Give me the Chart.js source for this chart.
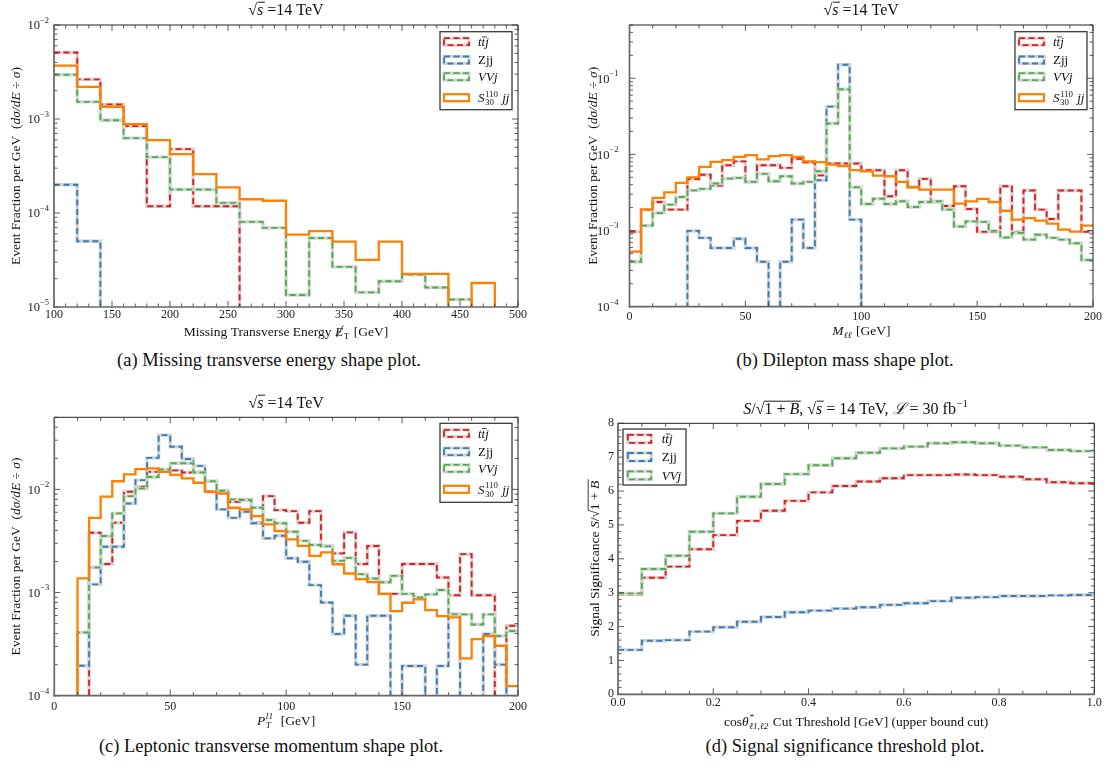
<!DOCTYPE html>
<html>
<head>
<meta charset="utf-8">
<title>Shape plots</title>
<script src="https://cdn.jsdelivr.net/npm/chart.js@4.4.1/dist/chart.umd.min.js"></script>
<style>
  html, body { margin: 0; padding: 0; background: #fff; }
  body { position: relative; width: 1108px; height: 771px; overflow: hidden; font-family: "Liberation Serif", "DejaVu Serif", serif; color: #111; }
  .panel { position: absolute; }
  .panel canvas { display: block; }
  .caption { position: absolute; font-size: 18.5px; line-height: 22px; white-space: nowrap; transform: translateX(-50%); }
</style>
</head>
<body>
<div class="panel" style="left:0;top:0"><canvas id="chart-met" width="548" height="345" style="width:548px;height:345px"></canvas></div>
<div class="panel" style="left:560px;top:0"><canvas id="chart-mll" width="548" height="345" style="width:548px;height:345px"></canvas></div>
<div class="panel" style="left:0;top:385px"><canvas id="chart-ptl" width="548" height="350" style="width:548px;height:350px"></canvas></div>
<div class="panel" style="left:560px;top:385px"><canvas id="chart-signif" width="548" height="350" style="width:548px;height:350px"></canvas></div>
<div class="caption" style="left:269px;top:349px">(a) Missing transverse energy shape plot.</div>
<div class="caption" style="left:845px;top:349px">(b) Dilepton mass shape plot.</div>
<div class="caption" style="left:271px;top:735px">(c) Leptonic transverse momentum shape plot.</div>
<div class="caption" style="left:845px;top:735px">(d) Signal significance threshold plot.</div>
<script>
const SERIF = '"Liberation Serif", "DejaVu Serif", serif';
const RED = "#e41a1c", BLUE = "#377eb8", GREEN = "#4daf4a", ORANGE = "#ff7f00", HALO = "#d4d4d4";
const FLOOR = 1e-9; // empty bins fall off the bottom of the log axis

// (a) missing transverse energy, 20 GeV bins
const metEdges = [100, 120, 140, 160, 180, 200, 220, 240, 260, 280, 300, 320, 340, 360, 380, 400, 420, 440, 460, 480, 500];
const metTtj = [5.1e-3, 2.64e-3, 1.43e-3, 8.4e-4, 1.18e-4, 4.78e-4, 1.18e-4, 1.18e-4, 0, 0, 0, 0, 0, 0, 0, 0, 0, 0, 0, 0];
const metZjj = [2.0e-4, 5.0e-5, 0, 0, 0, 0, 0, 0, 0, 0, 0, 0, 0, 0, 0, 0, 0, 0, 0, 0];
const metVVj = [2.96e-3, 1.52e-3, 9.7e-4, 6.26e-4, 3.93e-4, 1.78e-4, 1.78e-4, 1.28e-4, 8.05e-5, 6.94e-5, 1.34e-5, 5.43e-5, 2.67e-5, 1.43e-5, 1.88e-5, 2.21e-5, 1.61e-5, 1.2e-5, 0, 0];
const metSig = [3.69e-3, 2.2e-3, 1.35e-3, 8.8e-4, 5.96e-4, 4.23e-4, 2.59e-4, 1.87e-4, 1.4e-4, 1.35e-4, 5.9e-5, 6.4e-5, 4.97e-5, 3.17e-5, 4.97e-5, 2.25e-5, 2.25e-5, 0, 1.8e-5, 0];

// (b) dilepton mass and (c) leading lepton pT, 5 GeV bins
const edges5 = [0, 5, 10, 15, 20, 25, 30, 35, 40, 45, 50, 55, 60, 65, 70, 75, 80, 85, 90, 95, 100, 105, 110, 115, 120, 125, 130, 135, 140, 145, 150, 155, 160, 165, 170, 175, 180, 185, 190, 195, 200];
const mllTtj = [9.6e-4, 1.88e-3, 2.37e-3, 1.88e-3, 1.88e-3, 4.76e-3, 5.4e-3, 3.9e-3, 7.2e-3, 8.1e-3, 4.36e-3, 7.2e-3, 7.2e-3, 6.66e-3, 8.75e-3, 7.9e-3, 5.3e-3, 7.6e-3, 7.6e-3, 7.6e-3,
  6.2e-3, 6.2e-3, 2.82e-3, 6.2e-3, 3.74e-3, 4.77e-3, 2.37e-3, 2.1e-3, 3.81e-3, 1.92e-3, 9.6e-4, 9.6e-4, 3.81e-3, 9.6e-4, 3.35e-3, 1.88e-3, 1.42e-3, 3.35e-3, 3.35e-3, 9.6e-4];
const mllZjj = [0, 0, 0, 0, 0, 9.9e-4, 8.0e-4, 5.9e-4, 5.9e-4, 7.8e-4, 5.9e-4, 3.9e-4, 0, 3.9e-4, 1.39e-3, 5.9e-4, 4.57e-3, 4.24e-2, 0.15, 1.39e-3,
  0, 0, 0, 0, 0, 0, 0, 0, 0, 0, 0, 0, 0, 0, 0, 0, 0, 0, 0, 0];
const mllVVj = [3.9e-4, 1.16e-3, 1.7e-3, 2.19e-3, 2.76e-3, 3.37e-3, 3.52e-3, 4.14e-3, 4.8e-3, 4.92e-3, 4.36e-3, 5.55e-3, 4.44e-3, 5.16e-3, 4.14e-3, 4.36e-3, 6.0e-3, 2.55e-2, 7.16e-2, 3.7e-3,
  2.23e-3, 2.62e-3, 2.23e-3, 2.42e-3, 2.04e-3, 2.37e-3, 2.42e-3, 1.88e-3, 1.13e-3, 1.32e-3, 1.3e-3, 9.9e-4, 8.1e-4, 9.3e-4, 7.6e-4, 8.8e-4, 8.0e-4, 7.6e-4, 6.8e-4, 4.1e-4];
const mllSig = [5.3e-4, 1.88e-3, 2.68e-3, 3.18e-3, 4.23e-3, 5.0e-3, 6.86e-3, 7.98e-3, 8.4e-3, 9.3e-3, 9.77e-3, 8.6e-3, 9.47e-3, 9.77e-3, 9.3e-3, 8.1e-3, 7.9e-3, 7.36e-3, 7.0e-3, 6.2e-3,
  6.0e-3, 5.27e-3, 5.16e-3, 4.36e-3, 3.7e-3, 3.45e-3, 3.45e-3, 3.45e-3, 2.25e-3, 2.42e-3, 2.6e-3, 2.37e-3, 1.82e-3, 1.39e-3, 1.46e-3, 1.35e-3, 1.23e-3, 1.03e-3, 9.7e-4, 1.16e-3];

const ptTtj = [0, 0, 0, 3.8e-3, 1.89e-3, 4.75e-3, 9.5e-3, 1.06e-2, 1.48e-2, 1.51e-2, 1.53e-2, 1.46e-2, 1.48e-2, 9.5e-3, 9.5e-3, 7.6e-3, 8.0e-3, 4.75e-3, 8.6e-3, 6.3e-3,
  6.16e-3, 4.75e-3, 6.16e-3, 2.83e-3, 2.4e-3, 3.83e-3, 1.89e-3, 2.83e-3, 9.7e-4, 9.7e-4, 1.89e-3, 1.89e-3, 1.89e-3, 1.4e-3, 9.4e-4, 2.36e-3, 9.4e-4, 9.4e-4, 0, 4.77e-4];
const ptZjj = [0, 0, 1.95e-4, 1.2e-3, 2.78e-3, 2.78e-3, 7.3e-3, 1.23e-2, 2.02e-2, 3.36e-2, 2.59e-2, 1.97e-2, 1.69e-2, 1.2e-2, 6.4e-3, 5.3e-3, 6.07e-3, 4.69e-3, 3.35e-3, 3.55e-3,
  2.15e-3, 1.99e-3, 1.18e-3, 8.0e-4, 3.96e-4, 5.96e-4, 2.0e-4, 5.96e-4, 5.96e-4, 0, 1.94e-4, 1.94e-4, 0, 1.94e-4, 6.2e-4, 0, 0, 3.96e-4, 2.0e-4, 0];
const ptVVj = [0, 0, 4.1e-4, 1.75e-3, 3.53e-3, 5.85e-3, 8.6e-3, 1.02e-2, 1.32e-2, 1.56e-2, 1.79e-2, 1.79e-2, 1.46e-2, 1.2e-2, 9.7e-3, 8.0e-3, 7.9e-3, 6.64e-3, 5.05e-3, 4.7e-3,
  3.88e-3, 3.17e-3, 2.89e-3, 2.8e-3, 2.03e-3, 2.17e-3, 1.51e-3, 1.37e-3, 1.26e-3, 1.45e-3, 9.7e-4, 8.98e-4, 9.6e-4, 1.06e-3, 6.15e-4, 6.15e-4, 4.9e-4, 6.15e-4, 3.79e-4, 4.24e-4];
const ptSig = [0, 0, 1.37e-3, 5.3e-3, 8.5e-3, 1.2e-2, 1.4e-2, 1.57e-2, 1.6e-2, 1.48e-2, 1.38e-2, 1.28e-2, 1.16e-2, 9.5e-3, 9.1e-3, 6.64e-3, 6.4e-3, 5.5e-3, 4.58e-3, 3.95e-3,
  3.27e-3, 2.83e-3, 2.27e-3, 2.45e-3, 1.88e-3, 1.53e-3, 1.35e-3, 1.26e-3, 9.7e-4, 6.6e-4, 7.96e-4, 8.6e-4, 6.76e-4, 5.9e-4, 5.74e-4, 2.3e-4, 3.54e-4, 3.79e-4, 3.05e-4, 1.24e-4];

// (d) signal significance vs cos(theta*) cut
const cutEdges = [0, 0.05, 0.1, 0.15, 0.2, 0.25, 0.3, 0.35, 0.4, 0.45, 0.5, 0.55, 0.6, 0.65, 0.7, 0.75, 0.8, 0.85, 0.9, 0.95, 1.0];
const sigTtj = [2.95, 3.44, 3.77, 4.28, 4.70, 5.12, 5.42, 5.71, 5.96, 6.15, 6.28, 6.38, 6.47, 6.47, 6.49, 6.47, 6.42, 6.35, 6.26, 6.23];
const sigZjj = [1.31, 1.58, 1.60, 1.85, 1.98, 2.14, 2.28, 2.42, 2.47, 2.53, 2.57, 2.64, 2.69, 2.75, 2.85, 2.87, 2.90, 2.90, 2.92, 2.93];
const sigVVj = [2.98, 3.70, 4.09, 4.80, 5.34, 5.83, 6.21, 6.50, 6.76, 6.97, 7.13, 7.26, 7.31, 7.41, 7.44, 7.41, 7.34, 7.29, 7.21, 7.18];

// rich text: {t, i, over, slash} or scripts {sub, sup, i}
const LBL_TTJ = [{ t: "t", i: 1 }, { t: "t", i: 1, over: 0.7 }, { t: "j", i: 1 }];
const LBL_ZJJ = [{ t: "Zjj" }];
const LBL_VVJ = [{ t: "VVj", i: 1 }];
const LBL_SIG = [{ t: "S", i: 1 }, { sub: "30", sup: "110" }, { t: " jj", i: 1 }];
const TITLE_14 = [{ t: "√" }, { t: "s", i: 1, over: 0.8 }, { t: " =14 TeV" }];
const Y_FRACTION = [{ t: "Event Fraction per GeV  (" }, { t: "dσ/dE", i: 1 }, { t: " ÷ " }, { t: "σ", i: 1 }, { t: ")" }];

function fnt(size, italic) { return (italic ? "italic " : "") + size + "px " + SERIF; }

function drawRich(ctx, segs, x, y, size, align) {
  let width = 0;
  const items = segs.map((s) => {
    let w;
    if (s.sub != null || s.sup != null) {
      ctx.font = fnt(size * 0.68, s.i);
      w = Math.max(s.sub ? ctx.measureText(s.sub).width : 0, s.sup ? ctx.measureText(s.sup).width : 0) + 1.5;
    } else {
      ctx.font = fnt(size, s.i);
      w = ctx.measureText(s.t).width;
    }
    const it = { s, x: width, w };
    width += w;
    return it;
  });
  const x0 = align === "center" ? x - width / 2 : align === "right" ? x - width : x;
  ctx.textAlign = "left";
  ctx.textBaseline = "alphabetic";
  items.forEach(({ s, x: dx, w }) => {
    const px = x0 + dx;
    if (s.sub != null || s.sup != null) {
      ctx.font = fnt(size * 0.68, s.i);
      if (s.sup) ctx.fillText(s.sup, px + 0.5, y - size * 0.42);
      if (s.sub) ctx.fillText(s.sub, px + 0.5, y + size * 0.24);
      return;
    }
    ctx.font = fnt(size, s.i);
    ctx.fillText(s.t, px, y);
    if (s.over || s.slash) {
      ctx.save();
      ctx.strokeStyle = ctx.fillStyle;
      ctx.lineWidth = Math.max(0.8, size * 0.06);
      ctx.beginPath();
      if (s.over) {
        const oy = y - size * s.over;
        ctx.moveTo(px - 0.5 + (s.i ? 1 : 0), oy);
        ctx.lineTo(px + w + 0.5 + (s.i ? 1 : 0), oy);
      }
      if (s.slash) {
        ctx.moveTo(px + w * 0.2, y + size * 0.08);
        ctx.lineTo(px + w * 1.0, y - size * 0.78);
      }
      ctx.stroke();
      ctx.restore();
    }
  });
}

function linTicks(ax) {
  const out = [];
  const n = Math.round((ax.max - ax.min) / ax.minor);
  for (let k = 0; k <= n; k++) {
    const v = ax.min + k * ax.minor;
    const r = (v - ax.min) / ax.major;
    out.push({ v, major: Math.abs(r - Math.round(r)) < 1e-6 });
  }
  return out;
}

function logTicks(ax) {
  const out = [];
  for (let e = Math.floor(Math.log10(ax.min)); e <= Math.ceil(Math.log10(ax.max)); e++) {
    for (let m = 1; m <= 9; m++) {
      const v = m * Math.pow(10, e);
      if (v >= ax.min * 0.999 && v <= ax.max * 1.001) out.push({ v, major: m === 1, e });
    }
  }
  return out;
}

function drawLegend(ctx, lg, a) {
  const x0 = lg.side === "left" ? a.left + lg.inset : a.right - lg.inset - lg.w;
  const y0 = a.top + lg.top;
  ctx.save();
  ctx.fillStyle = "#fff";
  ctx.fillRect(x0, y0, lg.w, lg.h);
  ctx.setLineDash([]);
  ctx.strokeStyle = "#3a3a3a";
  ctx.lineWidth = 1.3;
  ctx.strokeRect(x0, y0, lg.w, lg.h);
  lg.rows.forEach((r) => {
    const cy = y0 + r.dy, sx = x0 + lg.sx;
    const box = [sx, cy - lg.sh / 2, lg.sw, lg.sh];
    if (r.dashed) {
      ctx.setLineDash([]);
      ctx.strokeStyle = HALO;
      ctx.lineWidth = 3.2;
      ctx.strokeRect(...box);
      ctx.setLineDash([6, 3.5]);
      ctx.strokeStyle = r.color;
      ctx.lineWidth = 1.8;
      ctx.strokeRect(...box);
    } else {
      ctx.setLineDash([]);
      ctx.strokeStyle = r.color;
      ctx.lineWidth = 2.2;
      ctx.strokeRect(...box);
    }
    ctx.setLineDash([]);
    ctx.fillStyle = "#111";
    drawRich(ctx, r.label, x0 + lg.tx, cy + 4.3, 13, "left");
  });
  ctx.restore();
}

function decorPlugin(cfg) {
  return {
    id: "decor",
    afterDraw(chart) {
      const { ctx, chartArea: a } = chart;
      const xs = chart.scales.x, ys = chart.scales.y;
      ctx.save();
      ctx.setLineDash([]);
      const seg = (x1, y1, x2, y2) => { ctx.beginPath(); ctx.moveTo(x1, y1); ctx.lineTo(x2, y2); ctx.stroke(); };

      // inward ticks on all four sides
      ctx.strokeStyle = "#333";
      ctx.lineWidth = 0.8;
      linTicks(cfg.x).forEach((t) => {
        const px = xs.getPixelForValue(t.v), L = t.major ? 6 : 3.5;
        seg(px, a.bottom, px, a.bottom - L);
        seg(px, a.top, px, a.top + L);
      });
      const yt = cfg.y.log ? logTicks(cfg.y) : linTicks(cfg.y);
      yt.forEach((t) => {
        const py = ys.getPixelForValue(t.v), L = t.major ? 6 : 3.5;
        seg(a.left, py, a.left + L, py);
        seg(a.right, py, a.right - L, py);
      });

      // frame
      ctx.strokeStyle = "#222";
      ctx.lineWidth = 1;
      seg(a.left, a.top, a.right, a.top);
      seg(a.right, a.top, a.right, a.bottom);
      ctx.strokeStyle = "#666";
      ctx.lineWidth = 1.7;
      seg(a.left, a.top - 0.5, a.left, a.bottom + 0.8);
      seg(a.left - 0.8, a.bottom, a.right + 0.5, a.bottom);

      ctx.fillStyle = "#222";
      if (cfg.y.log) {
        yt.filter((t) => t.major).forEach((t) => {
          const py = ys.getPixelForValue(t.v);
          const exp = "−" + Math.abs(t.e);
          ctx.font = fnt(8.5, false);
          const w2 = ctx.measureText(exp).width;
          ctx.font = fnt(12.5, false);
          const w1 = ctx.measureText("10").width;
          const xe = a.left - cfg.y.gap;
          ctx.textAlign = "left";
          ctx.textBaseline = "alphabetic";
          ctx.fillText("10", xe - w2 - w1, py + 4.3);
          ctx.font = fnt(8.5, false);
          ctx.fillText(exp, xe - w2, py - 2.2);
        });
      }

      ctx.fillStyle = "#111";
      const cx = (a.left + a.right) / 2;
      drawRich(ctx, cfg.title, cx, cfg.titleY, 16, "center");
      drawRich(ctx, cfg.xTitle, cx, cfg.xTitleY, 13.5, "center");
      ctx.save();
      ctx.translate(cfg.yTitleX, (a.top + a.bottom) / 2);
      ctx.rotate(-Math.PI / 2);
      drawRich(ctx, cfg.yTitle, 0, 0, 13.5, "center");
      ctx.restore();

      drawLegend(ctx, cfg.legend, a);
      ctx.restore();
    },
  };
}

function histSets(edges, series) {
  const sets = [];
  series.forEach((s, k) => {
    const pts = s.vals.map((v, i) => ({ x: edges[i], y: v > 0 ? v : FLOOR }));
    pts.push({ x: edges[edges.length - 1], y: pts[pts.length - 1].y });
    const order = (series.length - k) * 2;
    if (s.dashed) {
      sets.push({ data: pts.map((p) => ({ ...p })), borderColor: HALO, borderWidth: 3.4, order: order + 1, stepped: true });
    }
    sets.push({ data: pts, borderColor: s.color, borderWidth: s.dashed ? 1.9 : 2.3, borderDash: s.dashed ? [6, 3.5] : [], order, stepped: true });
  });
  return sets;
}

function makeChart(id, cfg, series) {
  const a = cfg.area;
  const tickFont = { family: SERIF, size: 12 };
  const yScale = cfg.y.log
    ? { type: "logarithmic", min: cfg.y.min, max: cfg.y.max, ticks: { display: false } }
    : { type: "linear", min: cfg.y.min, max: cfg.y.max, ticks: { stepSize: cfg.y.major, padding: cfg.y.gap, color: "#222", font: tickFont } };
  Object.assign(yScale, {
    afterFit: (s) => { s.width = a.left; },
    grid: { display: false, drawTicks: false },
    border: { display: false },
  });
  return new Chart(document.getElementById(id), {
    type: "line",
    data: { datasets: histSets(cfg.edges, series) },
    options: {
      responsive: false,
      animation: false,
      events: [],
      layout: { padding: { top: a.top, right: cfg.w - a.right, left: 0, bottom: 0 } },
      elements: { point: { radius: 0 }, line: { tension: 0, fill: false } },
      plugins: { legend: { display: false }, tooltip: { enabled: false }, title: { display: false } },
      scales: {
        x: {
          type: "linear",
          min: cfg.x.min,
          max: cfg.x.max,
          afterFit: (s) => { s.height = cfg.h - a.bottom; },
          grid: { display: false, drawTicks: false },
          border: { display: false },
          ticks: { stepSize: cfg.x.major, autoSkip: false, maxRotation: 0, padding: cfg.x.pad, color: "#222", font: tickFont, callback: (v) => cfg.x.fmt(v) },
        },
        y: yScale,
      },
    },
    plugins: [decorPlugin(cfg)],
  });
}

const legend4 = (side, inset, top, h) => ({
  side, inset, top, w: 72, h, sx: 4, sw: 25, sh: 7, tx: 38,
  rows: [
    { label: LBL_TTJ, color: RED, dashed: true, dy: 10 },
    { label: LBL_ZJJ, color: BLUE, dashed: true, dy: 28.3 },
    { label: LBL_VVJ, color: GREEN, dashed: true, dy: 45 },
    { label: LBL_SIG, color: ORANGE, dashed: false, dy: 66 },
  ],
});
const intFmt = (v) => String(Math.round(v));

makeChart("chart-met", {
  w: 548, h: 345, area: { left: 54, top: 25, right: 518, bottom: 307 }, edges: metEdges,
  x: { min: 100, max: 500, major: 50, minor: 10, pad: 1, fmt: intFmt },
  y: { log: true, min: 1e-5, max: 1e-2, gap: 5 },
  title: TITLE_14, titleY: 15,
  xTitle: [{ t: "Missing Transverse Energy " }, { t: "E", i: 1, slash: 1 }, { sub: "T" }, { t: " [GeV]" }], xTitleY: 336,
  yTitle: Y_FRACTION, yTitleX: 20,
  legend: legend4("right", 6, 6.7, 78),
}, [
  { vals: metTtj, color: RED, dashed: true },
  { vals: metZjj, color: BLUE, dashed: true },
  { vals: metVVj, color: GREEN, dashed: true },
  { vals: metSig, color: ORANGE, dashed: false },
]);

makeChart("chart-mll", {
  w: 548, h: 345, area: { left: 69.5, top: 25, right: 533, bottom: 306.7 }, edges: edges5,
  x: { min: 0, max: 200, major: 50, minor: 10, pad: 3, fmt: intFmt },
  y: { log: true, min: 1e-4, max: 0.5, gap: 11 },
  title: TITLE_14, titleY: 15,
  xTitle: [{ t: "M", i: 1 }, { sub: "ℓℓ", i: 1 }, { t: " [GeV]" }], xTitleY: 335,
  yTitle: Y_FRACTION, yTitleX: 37,
  legend: legend4("right", 6, 6.7, 78),
}, [
  { vals: mllTtj, color: RED, dashed: true },
  { vals: mllZjj, color: BLUE, dashed: true },
  { vals: mllVVj, color: GREEN, dashed: true },
  { vals: mllSig, color: ORANGE, dashed: false },
]);

makeChart("chart-ptl", {
  w: 548, h: 350, area: { left: 54.3, top: 32.3, right: 518, bottom: 310.7 }, edges: edges5,
  x: { min: 0, max: 200, major: 50, minor: 10, pad: 4, fmt: intFmt },
  y: { log: true, min: 1e-4, max: 0.05, gap: 5 },
  title: TITLE_14, titleY: 23,
  xTitle: [{ t: "P", i: 1 }, { sub: "T", sup: "l1", i: 1 }, { t: "  [GeV]" }], xTitleY: 340,
  yTitle: Y_FRACTION, yTitleX: 20,
  legend: legend4("right", 6, 6, 79),
}, [
  { vals: ptTtj, color: RED, dashed: true },
  { vals: ptZjj, color: BLUE, dashed: true },
  { vals: ptVVj, color: GREEN, dashed: true },
  { vals: ptSig, color: ORANGE, dashed: false },
]);

makeChart("chart-signif", {
  w: 548, h: 350, area: { left: 58, top: 38.3, right: 534.3, bottom: 309.3 }, edges: cutEdges,
  x: { min: 0, max: 1, major: 0.2, minor: 0.05, pad: 1, fmt: (v) => v.toFixed(1) },
  y: { log: false, min: 0, max: 8, major: 1, minor: 0.2, gap: 4 },
  title: [{ t: "S", i: 1 }, { t: "/" }, { t: "√" }, { t: "1 + ", over: 0.8 }, { t: "B", i: 1, over: 0.8 }, { t: ", " }, { t: "√" }, { t: "s", i: 1, over: 0.8 },
    { t: " = 14 TeV, " }, { t: "ℒ", i: 1 }, { t: " = 30 fb" }, { sup: "−1" }],
  titleY: 29,
  xTitle: [{ t: "cos" }, { t: "θ", i: 1 }, { sub: "ℓ1,ℓ2", sup: "*", i: 1 }, { t: " Cut Threshold [GeV] (upper bound cut)" }], xTitleY: 341,
  yTitle: [{ t: "Signal Significance " }, { t: "S", i: 1 }, { t: "/" }, { t: "√" }, { t: "1 + ", over: 0.8 }, { t: "B", i: 1, over: 0.8 }], yTitleX: 39,
  legend: {
    side: "left", inset: 5, top: 5.7, w: 63, h: 56, sx: 4.8, sw: 23.4, sh: 8, tx: 38.7,
    rows: [
      { label: LBL_TTJ, color: RED, dashed: true, dy: 9.8 },
      { label: LBL_ZJJ, color: BLUE, dashed: true, dy: 28 },
      { label: LBL_VVJ, color: GREEN, dashed: true, dy: 46.3 },
    ],
  },
}, [
  { vals: sigTtj, color: RED, dashed: true },
  { vals: sigZjj, color: BLUE, dashed: true },
  { vals: sigVVj, color: GREEN, dashed: true },
]);
</script>
</body>
</html>
